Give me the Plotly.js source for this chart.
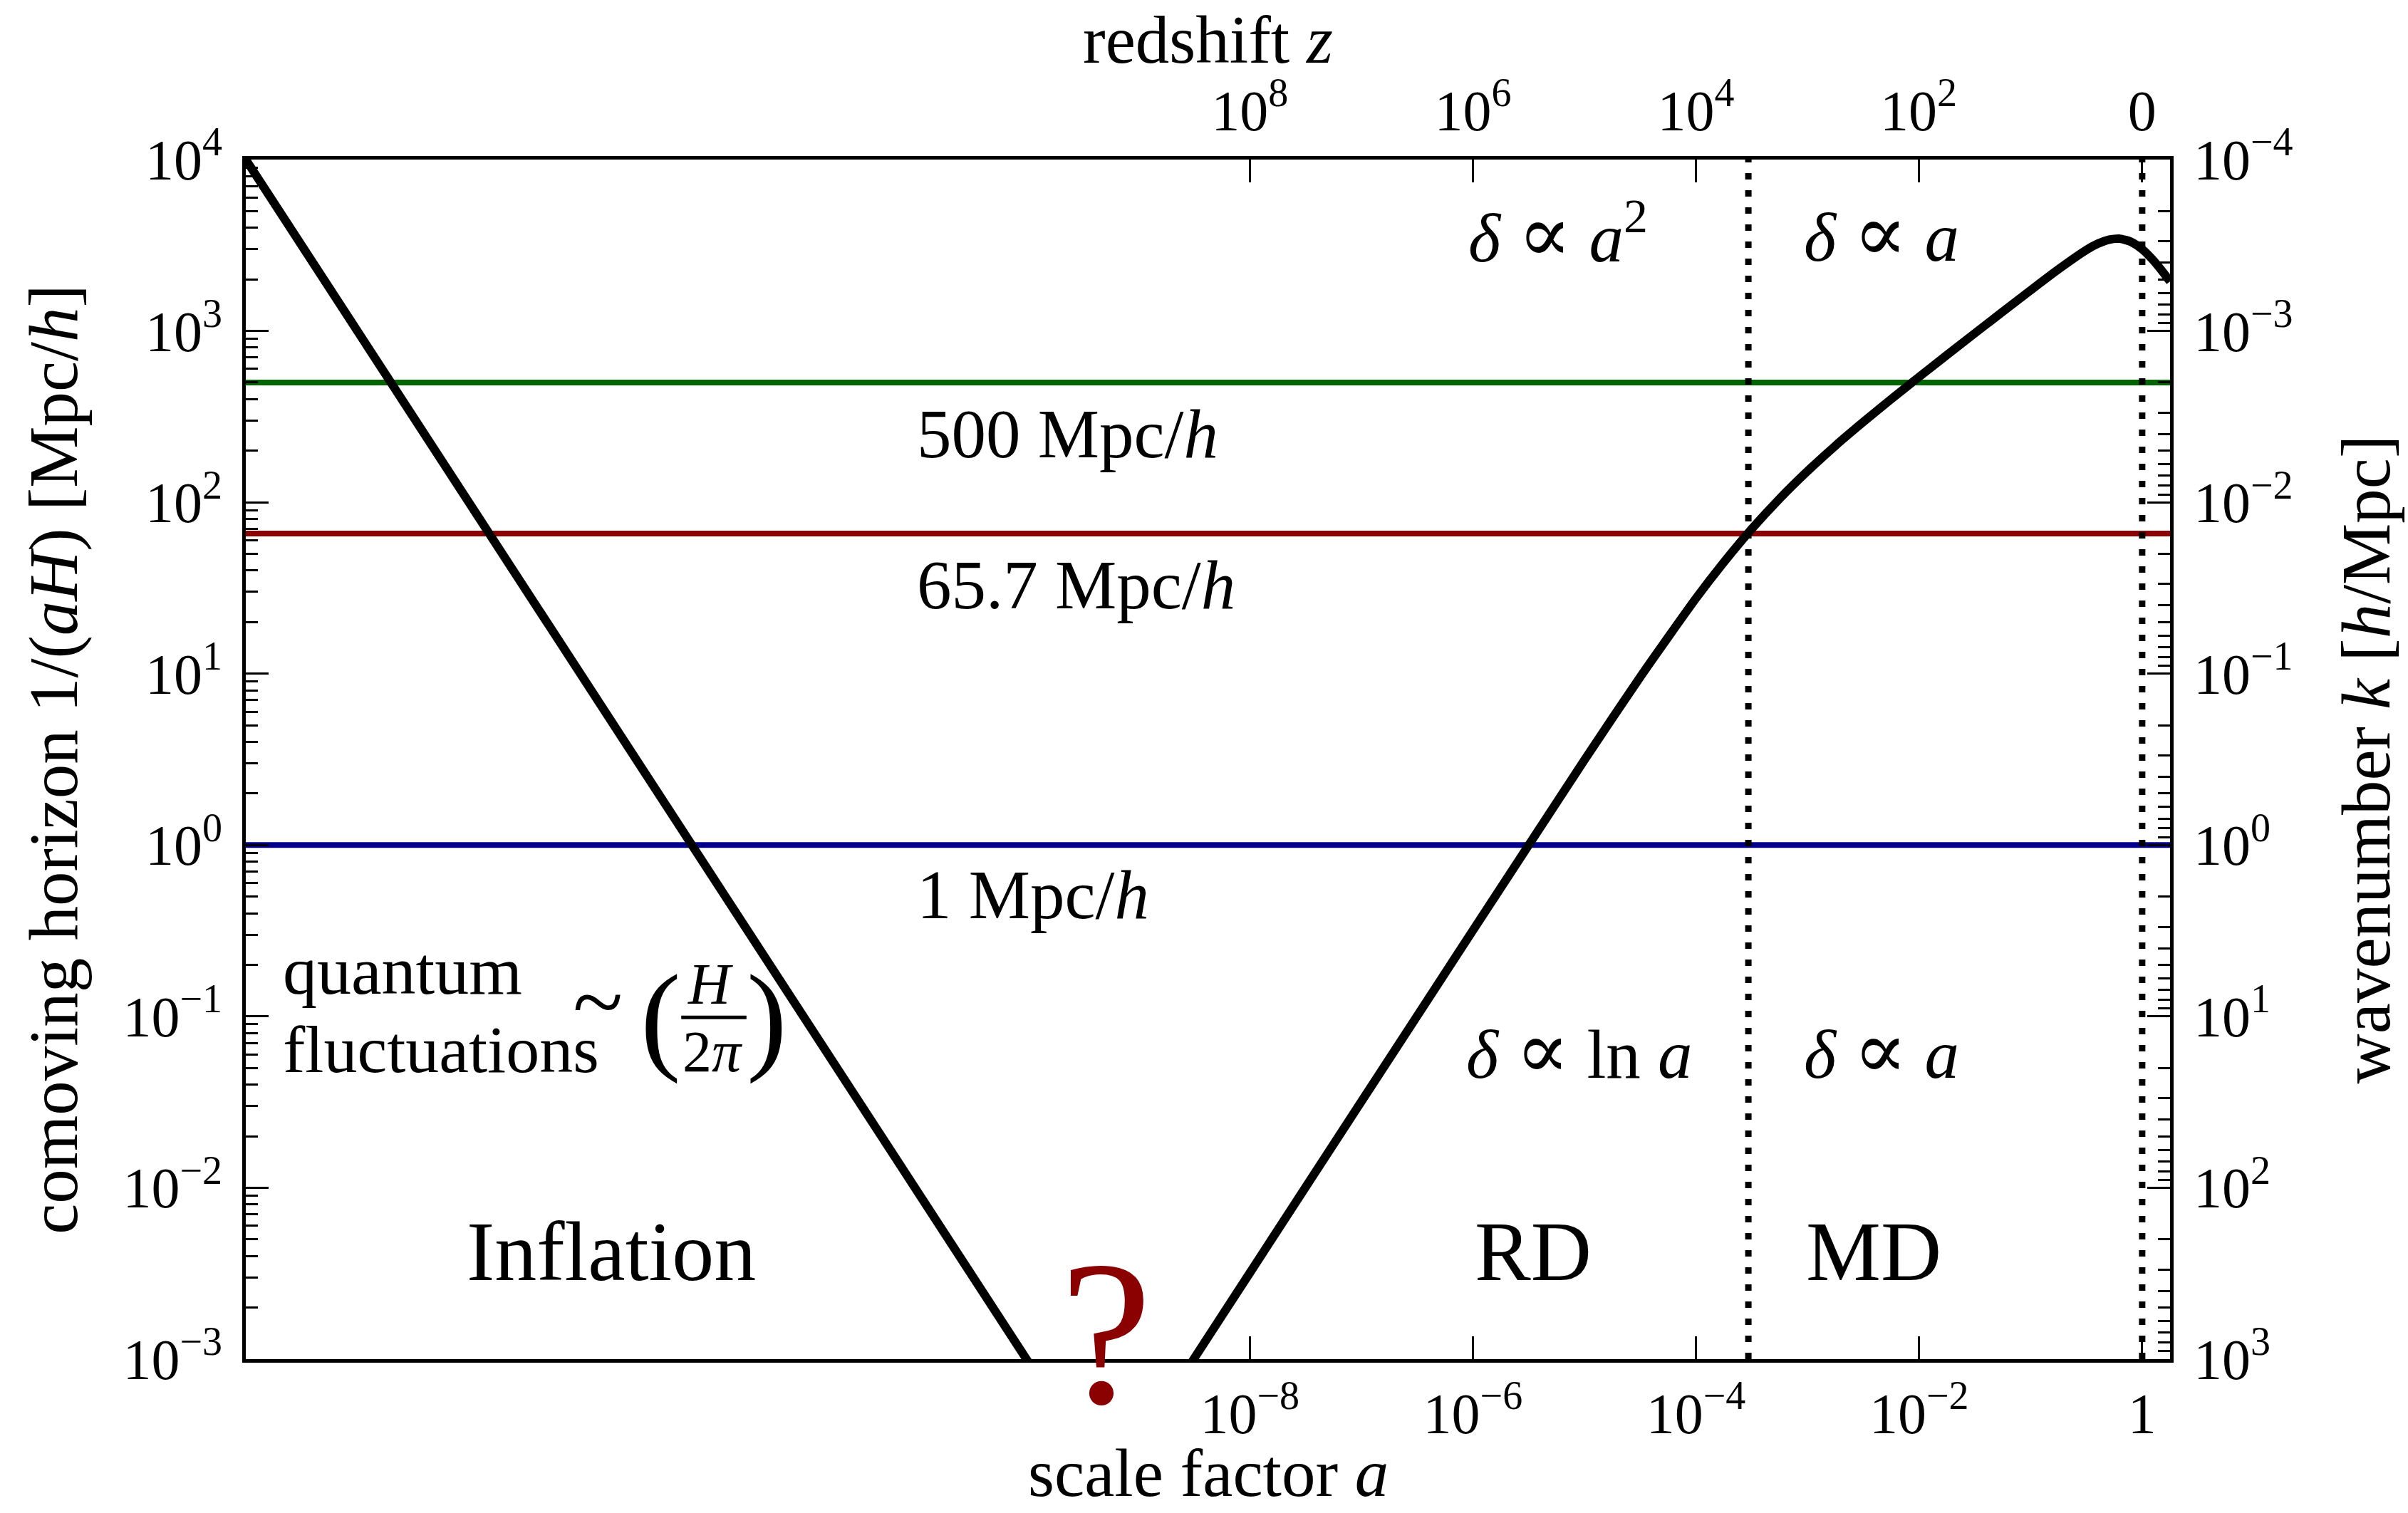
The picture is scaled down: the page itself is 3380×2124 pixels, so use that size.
<!DOCTYPE html>
<html>
<head>
<meta charset="utf-8">
<script src="https://cdn.plot.ly/plotly-3.0.1.min.js"></script>
<style>html,body{margin:0;padding:0;background:#fff;}#plot{width:3380px;height:2124px;}</style>
</head>
<body>
<div id="plot"></div>
<script>
// ---- data ----
// inflation branch: comoving horizon shrinks ~1/a
const inflationA = [1e-17, 1.2e-10];
const inflationH = [1e4, 8.3e-4];
// radiation / matter / Lambda branch
const postA = [3.0e-9, 3.16e-9, 1e-8, 1e-7, 1e-6, 1e-5, 3.16e-5, 1e-4, 1.78e-4, 3.16e-4, 5.62e-4, 1e-3,
               1.78e-3, 3.16e-3, 5.62e-3, 1e-2, 3.16e-2, 0.1, 0.178, 0.316, 0.398, 0.501, 0.631, 0.794,
               1.0, 1.259, 1.585, 1.78];
const postH = [9.53e-4, 1.005e-3, 3.18e-3, 0.0318, 0.317, 3.13, 9.55, 27.5, 44.7, 69.9, 105, 152,
               214, 294, 400, 539, 969, 1726, 2291, 2969, 3223, 3406, 3452, 3312,
               2998, 2582, 2148, 1942];
// reference scales (horizontal lines)
const scaleValues = [500, 65.7, 1];
const scaleLabels = ['500 Mpc/<i>h</i>', '65.7 Mpc/<i>h</i>', '1 Mpc/<i>h</i>'];
const scaleColors = ['#006400', '#8b0000', '#00008b'];
const xLimits = [1e-17, 1.78];
const yLimits = [1e-3, 1e4];
// epochs (vertical dotted lines): matter-radiation equality, today
const epochA = [2.95e-4, 1.0];

// tick labels
const bottomTickVals = [1e-8, 1e-6, 1e-4, 1e-2, 1];
const bottomTickText = ['10<sup>−8</sup>', '10<sup>−6</sup>', '10<sup>−4</sup>', '10<sup>−2</sup>', '1'];
const topTickVals = [1e-8, 1e-6, 1e-4, 1/101, 1];
const topTickText = ['10<sup>8</sup>', '10<sup>6</sup>', '10<sup>4</sup>', '10<sup>2</sup>', '0'];
const leftTickVals = [1e-3, 1e-2, 1e-1, 1, 10, 100, 1000, 10000];
const leftTickText = ['10<sup>−3</sup>', '10<sup>−2</sup>', '10<sup>−1</sup>', '10<sup>0</sup>', '10<sup>1</sup>', '10<sup>2</sup>', '10<sup>3</sup>', '10<sup>4</sup>'];
const rightTickText = ['10<sup>3</sup>', '10<sup>2</sup>', '10<sup>1</sup>', '10<sup>0</sup>', '10<sup>−1</sup>', '10<sup>−2</sup>', '10<sup>−3</sup>', '10<sup>−4</sup>'];

// minor tick positions (axis decoration)
const leftMinor = [];
const rightMinor = [];
for (let n = -3; n < 4; n++) for (let m = 2; m <= 9; m++) leftMinor.push(m * Math.pow(10, n));
for (let n = -4; n < 3; n++) for (let m = 2; m <= 9; m++) rightMinor.push(1 / (m * Math.pow(10, n)));

const FONT = 'Liberation Serif, DejaVu Serif, serif';
const FS = 80;
const TFS = 97;

const traces = [];
scaleValues.forEach((v, i) => {
  traces.push({x: xLimits, y: [v, v], mode: 'lines', line: {color: scaleColors[i], width: 8},
               hoverinfo: 'skip', showlegend: false});
});
traces.push({x: inflationA, y: inflationH, mode: 'lines', line: {color: '#000', width: 12}, hoverinfo: 'skip', showlegend: false});
traces.push({x: postA, y: postH, mode: 'lines', line: {color: '#000', width: 12, shape: 'spline', smoothing: 0.6}, hoverinfo: 'skip', showlegend: false});
epochA.forEach(a => {
  traces.push({x: [a, a], y: yLimits, mode: 'lines', xaxis: 'x2', yaxis: 'y2',
               line: {color: '#000', width: 9, dash: '9px,15px'}, hoverinfo: 'skip', showlegend: false});
});

const axBase = {
  type: 'log', showgrid: false, zeroline: false, showline: true, linecolor: '#000', linewidth: 5,
  ticks: 'inside', tickcolor: '#000', tickwidth: 3, tickmode: 'array',
  tickfont: {family: FONT, size: FS, color: '#000'}, mirror: false
};

const layout = {
  width: 3380, height: 2124,
  margin: {l: 345, r: 334, t: 224, b: 216},
  paper_bgcolor: '#fff', plot_bgcolor: '#fff',
  showlegend: false, hovermode: false,
  font: {family: FONT, size: FS, color: '#000'},
  xaxis: Object.assign({}, axBase, {
    range: [-17, 0.25], tickvals: bottomTickVals, ticktext: bottomTickText, ticklen: 32,
    ticklabelstandoff: 3
  }),
  xaxis2: Object.assign({}, axBase, {
    range: [-17, 0.25], tickvals: topTickVals, ticktext: topTickText, ticklen: 32,
    overlaying: 'x', side: 'top', anchor: 'y2', ticklabelstandoff: 4
  }),
  yaxis: Object.assign({}, axBase, {
    range: [-3, 4], tickvals: leftTickVals, ticktext: leftTickText, ticklen: 32,
    ticklabelstandoff: 12,
    minor: {tickmode: 'array', tickvals: leftMinor, ticks: 'inside', ticklen: 17, tickwidth: 3, tickcolor: '#000'},
    title: {text: 'comoving horizon 1/(<i>aH</i>) [Mpc/<i>h</i>]', font: {family: FONT, size: TFS}, standoff: 33}
  }),
  yaxis2: Object.assign({}, axBase, {
    range: [-3, 4], tickvals: leftTickVals, ticktext: rightTickText, ticklen: 32,
    overlaying: 'y', side: 'right', anchor: 'x2', ticklabelstandoff: 12,
    minor: {tickmode: 'array', tickvals: rightMinor, ticks: 'inside', ticklen: 17, tickwidth: 3, tickcolor: '#000'},
    title: {text: 'wavenumber <i>k</i> [<i>h</i>/Mpc]', font: {family: FONT, size: TFS}, standoff: 70}
  }),
  annotations: [],
  shapes: [
    {type: 'line', xref: 'paper', yref: 'paper', x0: 0.2263, x1: 0.2602, y0: 0.2849, y1: 0.2849, line: {color: '#000', width: 5}}
  ]
};

const ann = (text, x, y, size, xanchor, color, yanchor) => layout.annotations.push({
  text: text, x: x, y: y, xref: 'paper', yref: 'paper', showarrow: false,
  xanchor: xanchor || 'center', yanchor: yanchor || 'middle',
  font: {family: FONT, size: size || FS, color: color || '#000'}
});

// horizontal axis titles (placed as in the reference, kept inside the page)
ann('scale factor <i>a</i>', 0.5, -0.1276, 95, 'center', '#000', 'bottom');
ann('redshift <i>z</i>', 0.5, 1.1325, 95, 'center', '#000', 'top');

const prop = '<span style="font-size:112px">∝</span>';
scaleLabels.forEach((t, i) => ann(t, 0.348, [0.771, 0.645, 0.387][i], 97, 'left'));
ann('<i>δ</i> ' + prop + ' <i>a</i><sup>2</sup>', 0.682, 0.9385, 97);
ann('<i>δ</i> ' + prop + ' <i>a</i>', 0.850, 0.9385, 97);
ann('<i>δ</i> ' + prop + ' ln <i>a</i>', 0.693, 0.2574, 97);
ann('<i>δ</i> ' + prop + ' <i>a</i>', 0.850, 0.2574, 97);
ann('Inflation', 0.190, 0.0896, 118);
ann('RD', 0.669, 0.0896, 118);
ann('MD', 0.846, 0.0896, 118);
ann('?', 0.447, 0.0218, 290, 'center', '#8b0000');
ann('quantum', 0.0184, 0.324, 96, 'left');
ann('fluctuations', 0.0184, 0.2586, 94, 'left');
ann('~', 0.183, 0.298, 130);
ann('(', 0.2155, 0.2848, 170);
ann(')', 0.271, 0.2848, 170);
ann('<i>H</i>', 0.2414, 0.3124, 82);
ann('2<i>π</i>', 0.2426, 0.2561, 82);

Plotly.newPlot('plot', traces, layout, {staticPlot: true, displayModeBar: false});
</script>
</body>
</html>
